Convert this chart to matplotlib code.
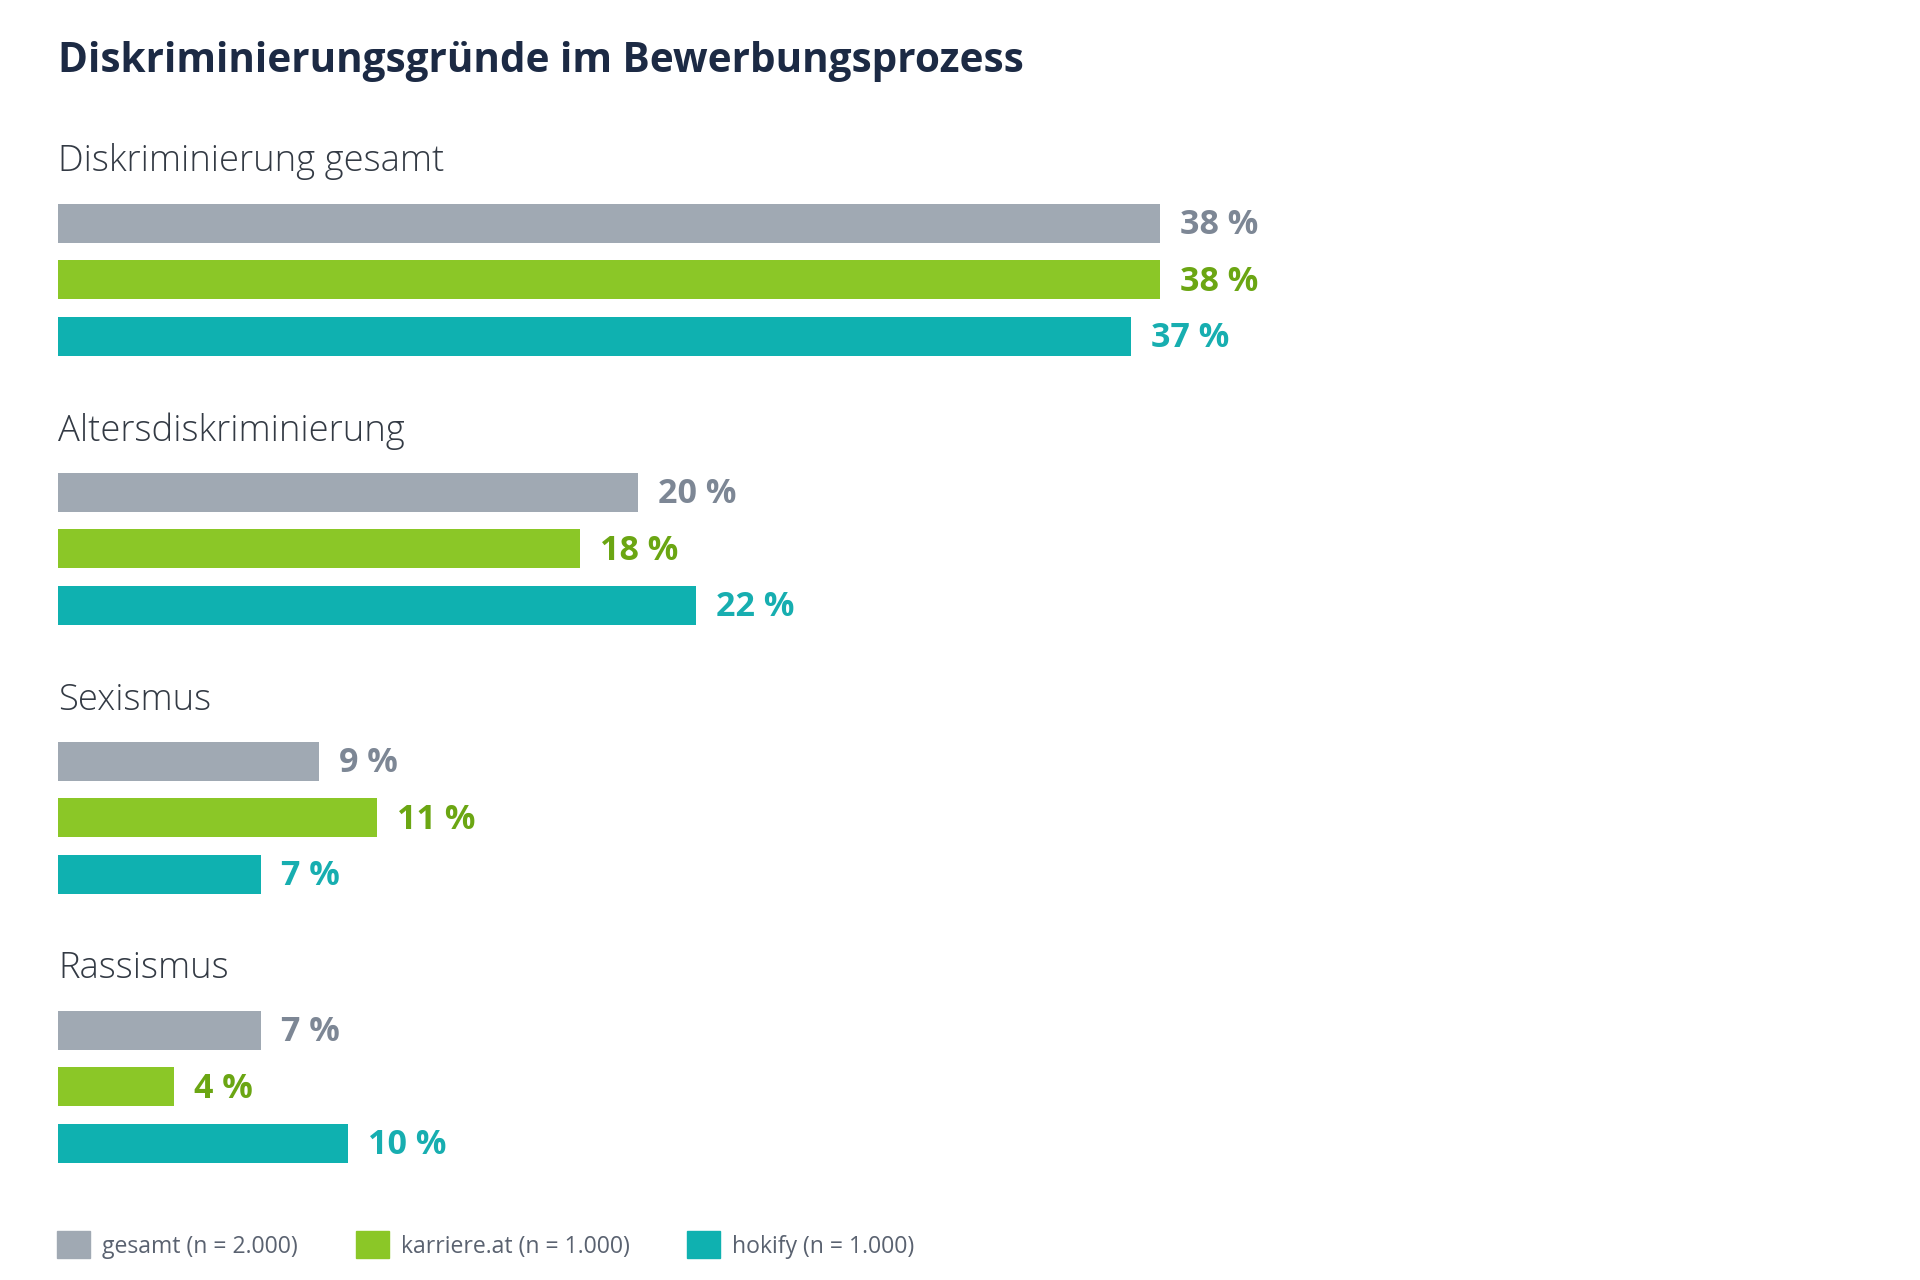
import matplotlib
matplotlib.use('agg')
import matplotlib.pyplot as plt
from matplotlib.patches import Patch

plt.rcParams['font.family'] = ['Open Sans', 'DejaVu Sans']

title = "Diskriminierungsgründe im Bewerbungsprozess"
groups = ["Diskriminierung gesamt", "Altersdiskriminierung", "Sexismus", "Rassismus"]
series = ["gesamt (n = 2.000)", "karriere.at (n = 1.000)", "hokify (n = 1.000)"]
gesamt = [38, 20, 9, 7]
karriere = [38, 18, 11, 4]
hokify = [37, 22, 7, 10]

bar_colors = ['#a0a9b3', '#8bc727', '#0fb1b0']
label_colors = ['#7d8795', '#6ba613', '#17aeb0']

W, H = 1920, 1280
fig = plt.figure(figsize=(W / 100, H / 100), dpi=100)
fig.patch.set_facecolor('white')

# layout in pixels
x0 = 58
px_per_pct = 29.0
row = 56.7           # pitch between bars of a group
group_step = 269.0   # pitch between groups
first_bar = 223.0    # center of first bar from top
xmax = 60

ax = fig.add_axes([x0 / W, 0, px_per_pct * xmax / W, 1])
ax.set_xlim(0, xmax)
ax.set_ylim((H - first_bar) / row, -first_bar / row)
ax.axis('off')

gstep = group_step / row
bar_h = 39 / row
values = [gesamt, karriere, hokify]
for s, vals in enumerate(values):
    ys = [g * gstep + s for g in range(len(groups))]
    ax.barh(ys, vals, height=bar_h, color=bar_colors[s], label=series[s])
    for y, v in zip(ys, vals):
        ax.text(v + 20 / px_per_pct, y + 2 / row, f"{v} %", va='center', ha='left',
                fontsize=24.5, fontweight='bold', color=label_colors[s])

for g, name in enumerate(groups):
    ax.text(0, g * gstep - 61 / row, name, va='center', ha='left',
            fontsize=26.2, fontweight='light', color='#333a44')

fig.text(x0 / W, 1 - 61 / H, title, va='center', ha='left',
         fontsize=29.2, fontweight='bold', color='#1c2a44')

fig.legend(handles=[Patch(color=c) for c in bar_colors], labels=series,
           loc='center left', bbox_to_anchor=(57 / W, 1 - 1245 / H),
           ncol=3, frameon=False, fontsize=16.6, handlelength=1.43, handleheight=1.43,
           handletextpad=0.53, columnspacing=2.5, borderpad=0, borderaxespad=0,
           labelcolor='#5a6270')

fig.savefig('out.png', dpi=100, facecolor='white')
